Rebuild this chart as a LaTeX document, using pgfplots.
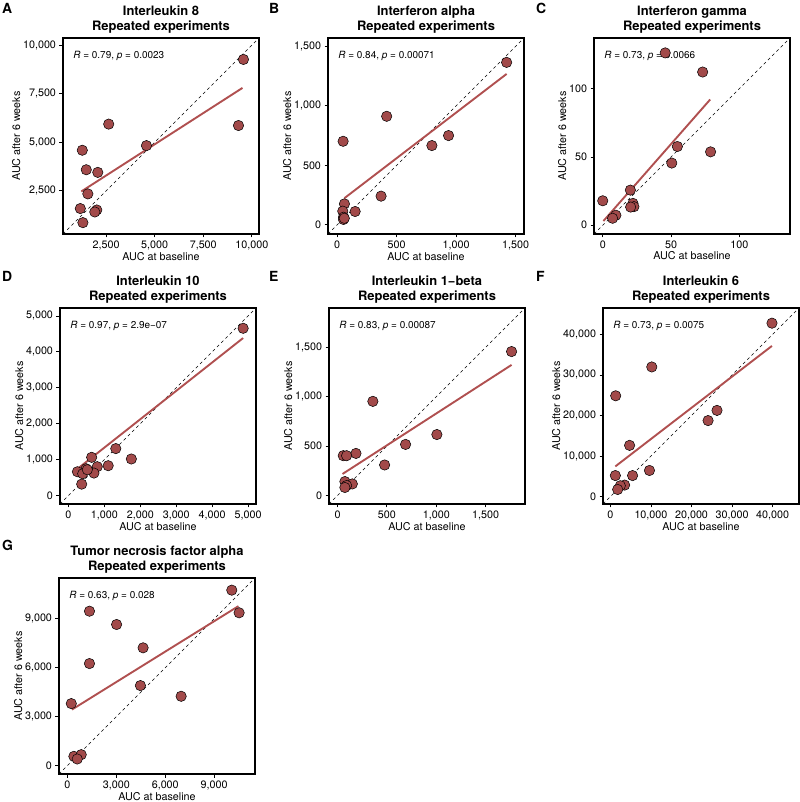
\documentclass[border=0pt]{standalone}
\usepackage{fontspec}
\setmainfont{TeX Gyre Heros}
\usepackage{pgfplots}
\pgfplotsset{compat=1.18}

\definecolor{ptfill}{RGB}{162,74,74}
\definecolor{regcol}{RGB}{176,80,80}

\newcommand{\tickfont}{\fontsize{10.8}{12}\selectfont}
\newcommand{\titlefont}{\bfseries\fontsize{13}{15}\selectfont}
\newcommand{\letterfont}{\bfseries\fontsize{14}{16}\selectfont}

\pgfplotsset{
  panel/.style={
    scale only axis, width=196bp, height=196bp,
    anchor=south west,
    axis line style={line width=1.1bp},
    tick style={line width=0.8bp, black},
    tick align=outside, major tick length=3.5bp,
    xtick pos=bottom, ytick pos=left,
    xlabel={AUC at baseline}, ylabel={AUC after 6 weeks},
    ticklabel style={font=\tickfont},
    label style={font=\tickfont},
    xlabel shift=-4.5bp, ylabel shift=-4bp,
    scaled ticks=false,
    /pgf/number format/fixed,
    /pgf/number format/1000 sep={,},
    /pgf/number format/assume math mode=true,
  },
  diag/.style={black, dashed, line width=0.6bp, dash pattern=on 3bp off 3bp},
  reg/.style={regcol, line width=1.9bp},
  pts/.style={only marks, mark=*, mark size=5.2bp,
    mark options={fill=ptfill, draw=black, line width=0.5bp}},
}
\newcommand{\annot}[2]{\node[anchor=west, font=\fontsize{10}{11}\selectfont]
  at (rel axis cs:0.035,0.91) {\textit{R} = #1, \textit{p} = #2};}
\newcommand{\paneltitle}[3]{% x centre, box top (bp), name
  \node[anchor=base, font=\titlefont] at (#1bp,#2bp+22bp) {#3};
  \node[anchor=base, font=\titlefont] at (#1bp,#2bp+7.3bp) {Repeated experiments};}
\newcommand{\letter}[3]{\node[anchor=base west, font=\letterfont, inner sep=0]
  at (#1bp,#2bp) {#3};}

\begin{document}
\begin{tikzpicture}
\useasboundingbox (0bp,0bp) rectangle (800bp,802bp);

% A  Interleukin 8
\begin{axis}[panel, at={(63bp,568bp)}, xmin=280, xmax=10370, ymin=280, ymax=10370,
  xtick={2500,5000,7500,10000}, ytick={2500,5000,7500,10000}]
\annot{0.79}{0.0023}
\addplot[diag] coordinates {(280,280) (10370,10370)};
\addplot[reg] coordinates {(1222,2469) (9519,7800)};
\addplot[pts] coordinates {(9570,9265) (9314,5864) (2633,5937) (4576,4829)
  (1273,4591) (1478,3587) (2071,3452) (1559,2345) (1171,1589) (2019,1517)
  (1917,1413) (1304,864)};
\end{axis}

% B  Interferon alpha
\begin{axis}[panel, at={(328bp,568bp)}, xmin=-77, xmax=1570, ymin=-77, ymax=1570,
  xtick={0,500,1000,1500}, ytick={0,500,1000,1500}]
\annot{0.84}{0.00071}
\addplot[diag] coordinates {(-77,-77) (1570,1570)};
\addplot[reg] coordinates {(61,224) (1424,1268)};
\addplot[pts] coordinates {(1424,1365) (416,912) (50,702) (936,750) (796,666)
  (369,241) (151,112) (61,176) (47,115) (53,64) (53,45) (60,55)};
\end{axis}

% C  Interferon gamma
\begin{axis}[panel, at={(594bp,568bp)}, xmin=-6.4, xmax=137, ymin=-6.4, ymax=137,
  xtick={0,50,100}, ytick={0,50,100}]
\annot{0.73}{0.0066}
\addplot[diag] coordinates {(-6.4,-6.4) (137,137)};
\addplot[reg] coordinates {(0.5,3.1) (78.6,92.0)};
\addplot[pts] coordinates {(45.7,126.1) (73.1,112.1) (78.9,53.7) (54.6,57.6)
  (50.5,45.5) (0,17.9) (20.2,25.7) (22.1,16.0) (22.8,13.6) (20.4,13.3)
  (9.6,7.3) (7.2,5.1)};
\end{axis}

% D  Interleukin 10
\begin{axis}[panel, at={(60bp,298bp)}, xmin=-236, xmax=5220, ymin=-236, ymax=5220,
  xtick={0,1000,2000,3000,4000,5000}, ytick={0,1000,2000,3000,4000,5000}]
\annot{0.97}{2.9e\textminus07}
\addplot[diag] coordinates {(-236,-236) (5220,5220)};
\addplot[reg] coordinates {(184,690) (4862,4384)};
\addplot[pts] coordinates {(4862,4655) (1317,1306) (1750,1017) (645,1063)
  (1105,830) (801,802) (709,625) (488,746) (249,662) (396,606) (368,317)
  (525,718)};
\end{axis}

% E  Interleukin 1-beta
\begin{axis}[panel, at={(329bp,298bp)}, xmin=-86, xmax=1898, ymin=-86, ymax=1898,
  xtick={0,500,1000,1500}, ytick={0,500,1000,1500}]
\annot{0.83}{0.00087}
\addplot[diag] coordinates {(-86,-86) (1898,1898)};
\addplot[reg] coordinates {(51,218) (1762,1322)};
\addplot[pts] coordinates {(1762,1457) (358,953) (1006,617) (689,517) (477,309)
  (187,426) (58,403) (92,403) (75,141) (150,117) (92,101) (75,81)};
\end{axis}

% F  Interleukin 6
\begin{axis}[panel, at={(603bp,298bp)}, xmin=-1820, xmax=46500, ymin=-1820, ymax=46500,
  xtick={0,10000,20000,30000,40000}, ytick={0,10000,20000,30000,40000}]
\annot{0.73}{0.0075}
\addplot[diag] coordinates {(-1820,-1820) (46500,46500)};
\addplot[reg] coordinates {(1224,7448) (39836,37154)};
\addplot[pts] coordinates {(39836,42760) (10204,31966) (1306,24853)
  (26285,21254) (24081,18744) (4735,12636) (9633,6443) (5469,5188)
  (1224,5188) (3510,2845) (2449,2678) (1796,1757)};
\end{axis}

% G  Tumor necrosis factor alpha
\begin{axis}[panel, at={(59bp,28bp)}, xmin=-510, xmax=11500, ymin=-510, ymax=11500,
  xtick={0,3000,6000,9000}, ytick={0,3000,6000,9000}]
\annot{0.63}{0.028}
\addplot[diag] coordinates {(-510,-510) (11500,11500)};
\addplot[reg] coordinates {(282,3436) (10484,9775)};
\addplot[pts] coordinates {(10077,10755) (10527,9368) (1357,9466) (3018,8650)
  (4643,7221) (1357,6258) (4479,4908) (6974,4252) (243,3804) (402,572)
  (852,675) (608,409)};
\end{axis}

\paneltitle{161}{764}{Interleukin 8}
\paneltitle{426}{764}{Interferon alpha}
\paneltitle{692}{764}{Interferon gamma}
\paneltitle{158}{494}{Interleukin 10}
\paneltitle{427}{494}{Interleukin 1\textminus beta}
\paneltitle{701}{494}{Interleukin 6}
\paneltitle{157}{224}{Tumor necrosis factor alpha}

\letter{2}{788}{A}
\letter{269}{788}{B}
\letter{536}{788}{C}
\letter{2}{520.5}{D}
\letter{269}{520.5}{E}
\letter{536}{520.5}{F}
\letter{2}{251}{G}
\end{tikzpicture}
\end{document}
